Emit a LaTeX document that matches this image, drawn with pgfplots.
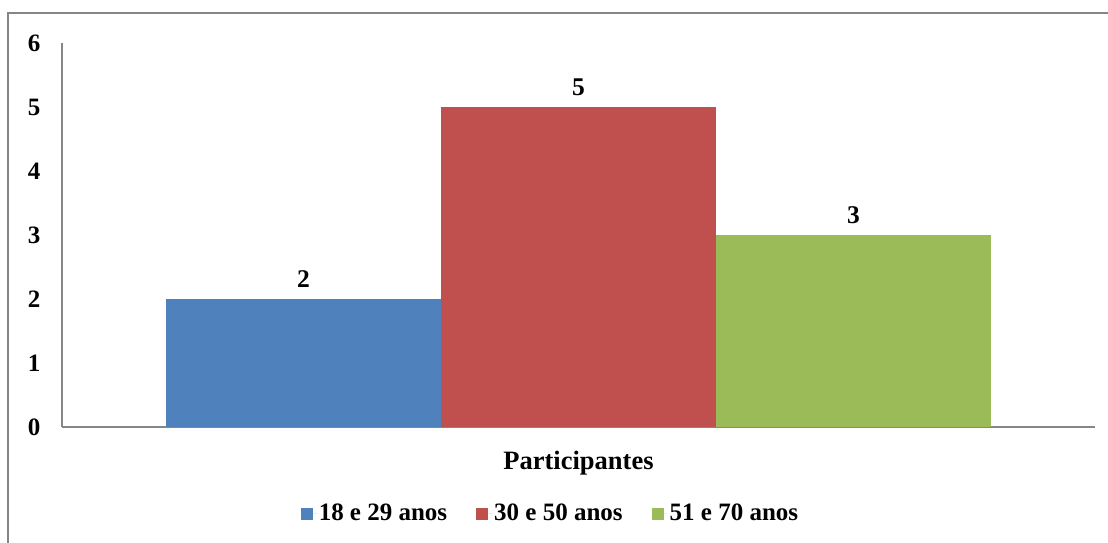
\documentclass[border=0pt]{standalone}
\usepackage{fontspec}
\setmainfont{Liberation Serif}
\usepackage{pgfplots}
\pgfplotsset{compat=1.18}

\definecolor{serA}{HTML}{4F81BD}
\definecolor{serB}{HTML}{C0504D}
\definecolor{serC}{HTML}{9BBB59}
\definecolor{axgray}{HTML}{868686}

\begin{document}
\begin{tikzpicture}[x=1pt,y=1pt]
  % page area and outer chart frame
  \path[use as bounding box] (0,0) rectangle (1108,543);
  \draw[axgray, line width=1.6pt] (8,0) -- (8,530) -- (1108,530);

  \begin{axis}[
    at={(62pt,116pt)}, anchor=south west,
    scale only axis,
    width=1033pt, height=384pt,
    xmin=-1.878, xmax=1.878,
    ymin=0, ymax=6,
    ytick={0,1,2,3,4,5,6},
    xtick={0},
    xticklabels={Participantes},
    axis x line*=bottom,
    axis y line*=left,
    axis line style={axgray, line width=1.3pt, -},
    major tick length=0pt,
    tick style={draw=none},
    /pgf/number format/assume math mode=true,
    ticklabel style={font=\fontsize{25}{29}\selectfont\bfseries},
    yticklabel style={anchor=east, xshift=-18pt},
    xticklabel style={yshift=-21pt, font=\fontsize{26.5}{31}\selectfont\bfseries},
    ybar, bar width=1, bar shift=0pt,
    nodes near coords,
    nodes near coords style={font=\fontsize{25.5}{30}\selectfont\bfseries, yshift=8pt},
    clip=false,
    legend columns=3,
    legend style={
      at={(0.4724,-0.224)}, anchor=center,
      draw=none, fill=none,
      font=\fontsize{25}{29}\selectfont\bfseries,
      /tikz/every even column/.append style={column sep=28pt},
      nodes={inner sep=1pt},
    },
    legend image code/.code={\fill[#1] (0pt,-7pt) rectangle (12pt,5pt);
                             \path (0pt,0pt) -- (17pt,0pt);},
  ]
    \addplot[fill=serA, draw=none] coordinates {(-1,2)};
    \addplot[fill=serB, draw=none] coordinates {(0,5)};
    \addplot[fill=serC, draw=none] coordinates {(1,3)};
    \legend{18 e 29 anos, 30 e 50 anos, 51 e 70 anos}
  \end{axis}
\end{tikzpicture}
\end{document}
